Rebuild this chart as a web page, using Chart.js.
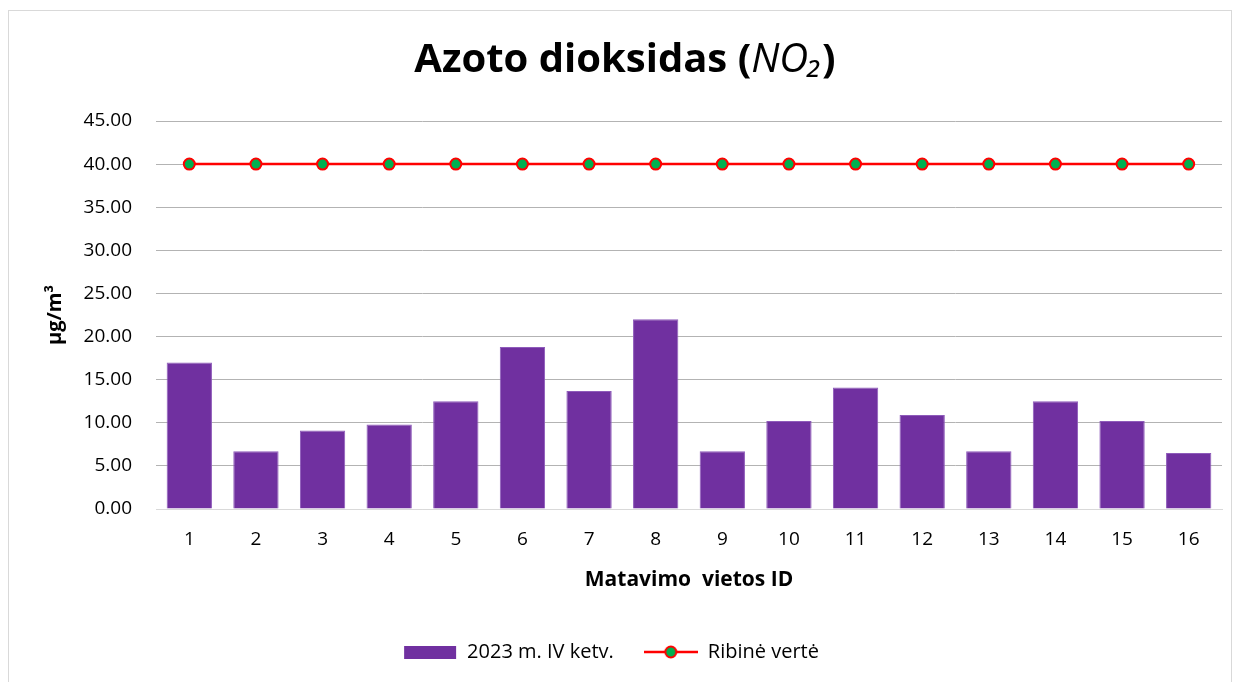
<!DOCTYPE html>
<html>
<head>
<meta charset="utf-8">
<script src="https://cdn.jsdelivr.net/npm/chart.js@4.4.1/dist/chart.umd.min.js"></script>
<style>
  html, body { margin: 0; padding: 0; background: #fff; }
  #wrap { position: relative; width: 1239px; height: 682px; }
  #frame { position: absolute; left: 8px; top: 10px; width: 1224px; height: 690px; border: 1px solid #D9D9D9; box-sizing: border-box; pointer-events: none; }
  canvas { position: absolute; left: 0; top: 0; }
</style>
</head>
<body>
<div id="wrap">
  <div id="frame"></div>
  <canvas id="c" width="1239" height="682"></canvas>
</div>
<script>
const categories = ['1','2','3','4','5','6','7','8','9','10','11','12','13','14','15','16'];
const measured = [17.0, 6.7, 9.1, 9.8, 12.5, 18.8, 13.7, 22.0, 6.7, 10.2, 14.1, 10.9, 6.7, 12.5, 10.2, 6.5];
const limitValues = [40, 40, 40, 40, 40, 40, 40, 40, 40, 40, 40, 40, 40, 40, 40, 40];
const seriesNames = ['2023 m. IV ketv.', 'Ribinė vertė'];
const titleMain = 'Azoto dioksidas (';
const titleItalic = 'NO₂';
const titleEnd = ')';
const yAxisTitle = 'µg/m³';
const xAxisTitle = 'Matavimo  vietos ID';

const FONT = '"Open Sans", Lato, sans-serif';
const PURPLE = '#7030A0';

function makeBarIcon() {
  const c = document.createElement('canvas');
  c.width = 54; c.height = 16;
  const g = c.getContext('2d');
  g.fillStyle = PURPLE;
  g.fillRect(1, 2, 52, 13);
  return c;
}
function makeLineIcon() {
  const c = document.createElement('canvas');
  c.width = 54; c.height = 16;
  const g = c.getContext('2d');
  g.strokeStyle = '#FF0000';
  g.lineWidth = 2.5;
  g.beginPath(); g.moveTo(0, 8); g.lineTo(54, 8); g.stroke();
  g.beginPath(); g.arc(27, 8, 5.5, 0, Math.PI * 2);
  g.fillStyle = '#00B050'; g.fill();
  g.lineWidth = 2; g.strokeStyle = '#FF0000'; g.stroke();
  return c;
}
const icons = [makeBarIcon(), makeLineIcon()];

const titlePlugin = {
  id: 'mixedTitle',
  afterDraw(chart) {
    const ctx = chart.ctx;
    ctx.save();
    const size = 40;
    const fBold = `bold ${size}px ${FONT}`;
    const fItal = `italic ${size}px ${FONT}`;
    ctx.font = fBold; const w1 = ctx.measureText(titleMain).width;
    ctx.font = fItal; const w2 = ctx.measureText(titleItalic).width;
    ctx.font = fBold; const w3 = ctx.measureText(titleEnd).width;
    const total = w1 + w2 + w3;
    let x = 625 - total / 2;
    const y = 72;
    ctx.fillStyle = '#000';
    ctx.textBaseline = 'alphabetic';
    ctx.textAlign = 'left';
    ctx.font = fBold; ctx.fillText(titleMain, x, y); x += w1;
    ctx.font = fItal; ctx.fillText(titleItalic, x, y); x += w2;
    ctx.font = fBold; ctx.fillText(titleEnd, x, y);
    ctx.restore();
  }
};

new Chart(document.getElementById('c'), {
  data: {
    labels: categories,
    datasets: [
      {
        type: 'bar',
        label: seriesNames[0],
        data: measured,
        backgroundColor: PURPLE,
        borderColor: '#8E5BBA',
        borderWidth: 1,
        barPercentage: 0.68,
        categoryPercentage: 1.0,
        order: 2
      },
      {
        type: 'line',
        label: seriesNames[1],
        data: limitValues,
        borderColor: '#FF0000',
        borderWidth: 2.5,
        pointRadius: 5.5,
        pointBackgroundColor: '#00B050',
        pointBorderColor: '#FF0000',
        pointBorderWidth: 2,
        tension: 0,
        order: 1
      }
    ]
  },
  options: {
    responsive: false,
    animation: false,
    layout: { padding: { left: 0, right: 17, top: 121, bottom: 10 } },
    plugins: {
      title: { display: false },
      tooltip: { enabled: false },
      legend: {
        position: 'bottom',
        labels: {
          usePointStyle: true,
          pointStyleWidth: 54,
          boxHeight: 16,
          padding: 30,
          color: '#000',
          font: { family: FONT, size: 20 },
          sort: (a, b) => a.datasetIndex - b.datasetIndex,
          generateLabels(chart) {
            const items = Chart.defaults.plugins.legend.labels.generateLabels(chart);
            items.forEach(it => { it.pointStyle = icons[it.datasetIndex]; });
            return items;
          }
        }
      }
    },
    scales: {
      x: {
        grid: { display: false, drawTicks: false },
        border: { display: true, color: '#D9D9D9', width: 1 },
        ticks: { color: '#000', font: { family: FONT, size: 19 }, padding: 19 },
        title: { display: true, text: xAxisTitle, color: '#000', font: { family: FONT, size: 21, weight: 'bold' }, padding: { top: 0, bottom: 19 } },
        afterFit(scale) { scale.height = 103; }
      },
      y: {
        min: 0, max: 45,
        ticks: {
          stepSize: 5,
          color: '#000',
          font: { family: FONT, size: 19 },
          padding: 24,
          callback: v => Number(v).toFixed(2)
        },
        grid: {
          drawTicks: false,
          color: ctx => ctx.tick && ctx.tick.value === 0 ? '#D9D9D9' : '#B3B3B3',
          lineWidth: 1
        },
        border: { display: false },
        title: { display: true, text: yAxisTitle, color: '#000', font: { family: FONT, size: 20, weight: 'bold' }, padding: { top: 43, bottom: 0 } },
        afterFit(scale) { scale.width = 156; }
      }
    }
  },
  plugins: [titlePlugin]
});
</script>
</body>
</html>
